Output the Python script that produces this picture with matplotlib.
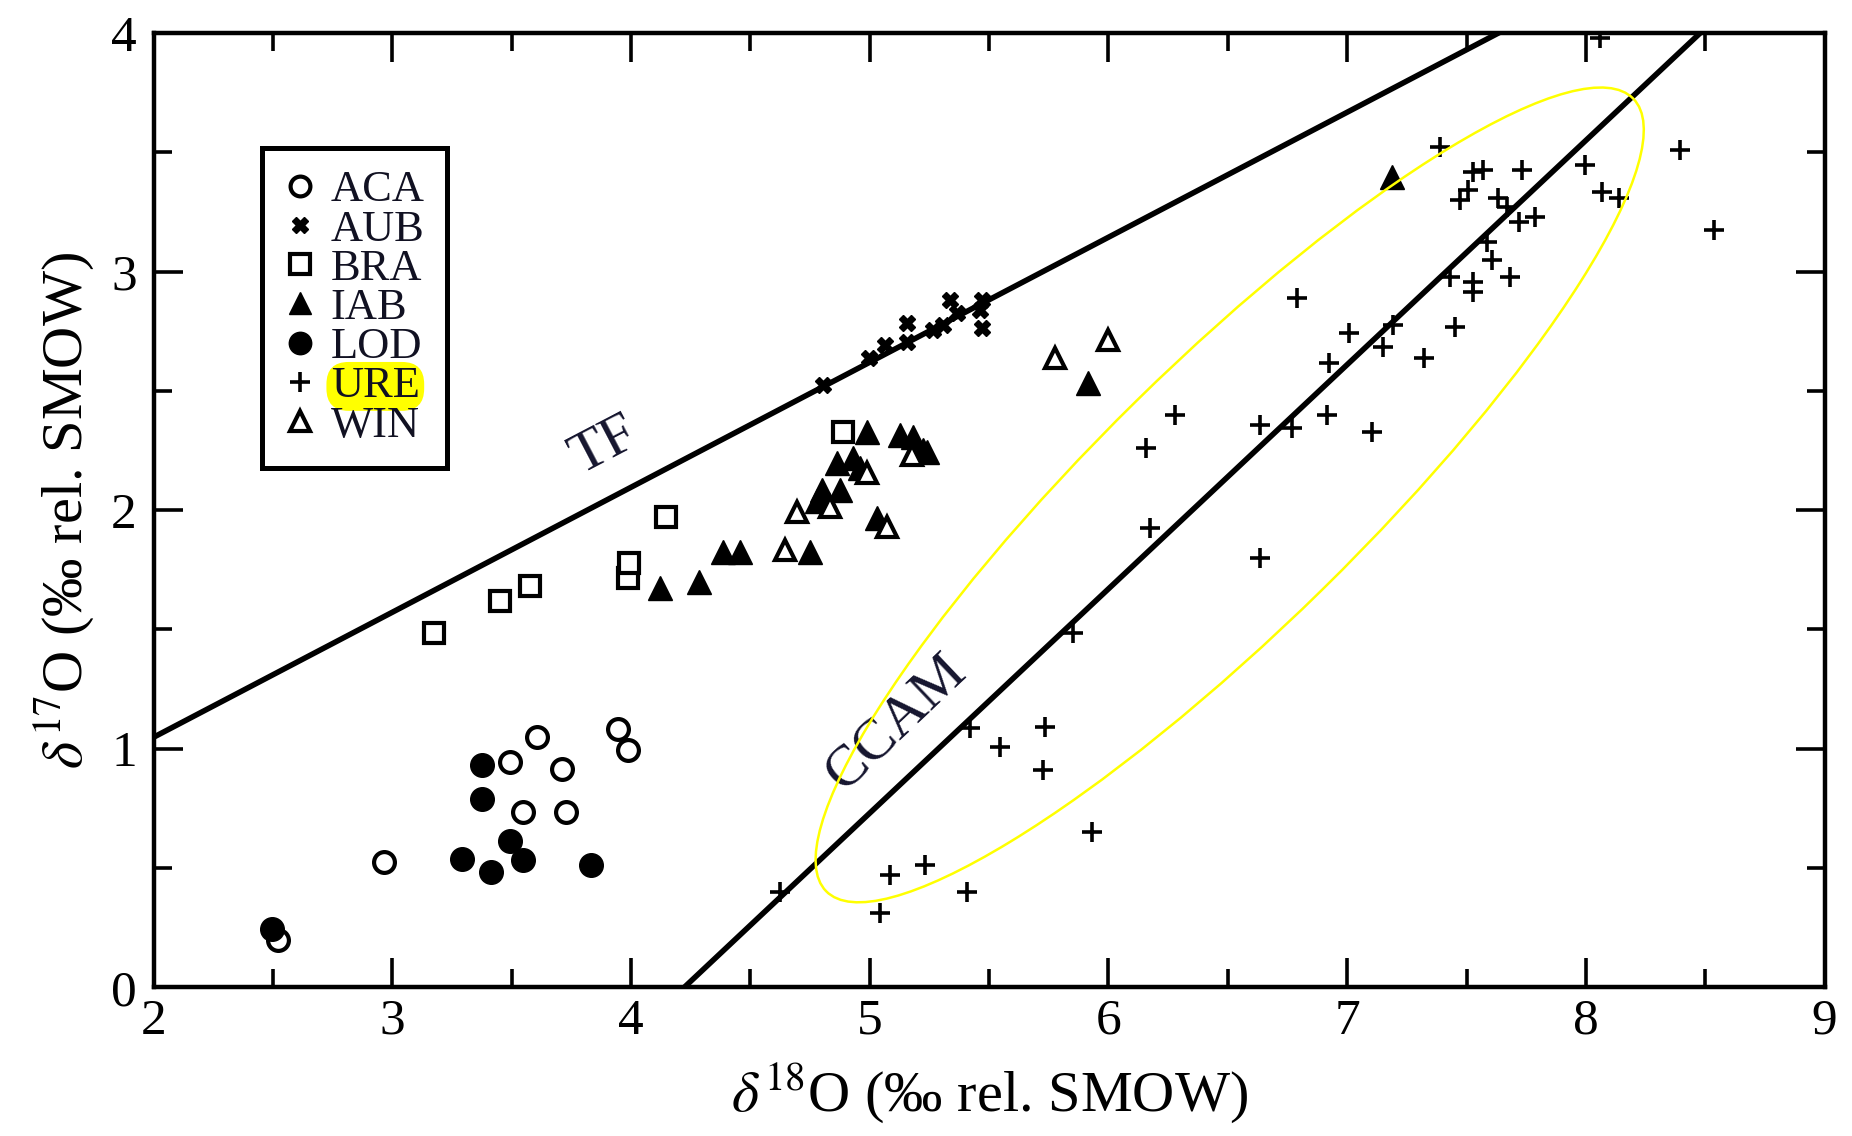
import matplotlib
matplotlib.use("Agg")
import matplotlib.pyplot as plt
from matplotlib.patches import Ellipse
from matplotlib.ticker import MultipleLocator
import numpy as np

plt.rcParams['font.family'] = ['Liberation Serif', 'DejaVu Serif']
plt.rcParams['mathtext.fontset'] = 'stix'

# ---------------- data ----------------
aca_x = [2.52, 2.966, 3.494, 3.547, 3.605, 3.710, 3.728, 3.945, 3.987]
aca_y = [0.197, 0.527, 0.946, 0.736, 1.050, 0.914, 0.736, 1.081, 0.995]

aub_x = [4.806, 4.995, 5.065, 5.155, 5.155, 5.267, 5.309, 5.337, 5.365, 5.470, 5.463, 5.470]
aub_y = [2.525, 2.637, 2.692, 2.783, 2.706, 2.755, 2.776, 2.881, 2.825, 2.881, 2.840, 2.762]

bra_x = [3.176, 3.452, 3.577, 3.989, 3.993, 4.147, 4.890]
bra_y = [1.484, 1.621, 1.682, 1.714, 1.777, 1.973, 2.329]

iab_x = [4.121, 4.287, 4.386, 4.456, 4.751, 4.780, 4.799, 4.813, 4.862, 4.876,
         4.932, 4.960, 4.988, 5.030, 5.127, 5.183, 5.225, 5.239, 5.916, 7.187]
iab_y = [1.672, 1.701, 1.826, 1.826, 1.826, 2.040, 2.085, 2.050, 2.197, 2.085,
         2.218, 2.176, 2.329, 1.966, 2.315, 2.308, 2.252, 2.245, 2.532, 3.398]

lod_x = [2.495, 3.291, 3.377, 3.375, 3.413, 3.494, 3.547, 3.832]
lod_y = [0.246, 0.537, 0.932, 0.788, 0.485, 0.615, 0.534, 0.513]

ure_x = [4.625, 5.043, 5.085, 5.232, 5.407, 5.421, 5.546, 5.735, 5.728, 5.930,
         5.853, 6.175, 6.158, 6.279, 6.636, 6.636, 6.768, 6.915, 7.103, 6.789,
         6.922, 7.006, 7.152, 7.194, 7.320, 7.452, 7.432, 7.529, 7.529, 7.683,
         7.606, 7.585, 7.669, 7.718, 7.788, 7.634, 7.473, 7.508, 7.529, 7.571,
         7.732, 7.389, 7.997, 8.067, 8.137, 8.395, 8.535, 8.060]
ure_y = [0.401, 0.310, 0.471, 0.513, 0.401, 1.086, 1.009, 1.092, 0.911, 0.652,
         1.484, 1.924, 2.259, 2.399, 1.798, 2.357, 2.343, 2.399, 2.329, 2.888,
         2.616, 2.741, 2.685, 2.776, 2.637, 2.769, 2.979, 2.958, 2.916, 2.979,
         3.049, 3.126, 3.272, 3.209, 3.230, 3.307, 3.300, 3.342, 3.419, 3.426,
         3.426, 3.521, 3.447, 3.335, 3.307, 3.510, 3.175, 3.980]

win_x = [4.646, 4.695, 4.834, 4.988, 5.072, 5.176, 5.777, 6.000]
win_y = [1.833, 1.994, 2.015, 2.155, 1.931, 2.231, 2.637, 2.713]

# reference lines: d17O = slope * d18O + intercept
tf_slope, tf_intercept = 0.524, 0.0
ccam_slope, ccam_intercept = 0.94, -3.97

# highlighted region (ellipse)
ell_center = (6.508, 2.064)
ell_major, ell_minor, ell_angle = 4.74, 1.11, 44.5

x_ticks = [2, 3, 4, 5, 6, 7, 8, 9]
y_ticks = [0, 1, 2, 3, 4]

# ---------------- figure ----------------
fig = plt.figure(figsize=(18.52, 11.36), dpi=100)
ax = fig.add_axes([0.0829, 0.1309, 0.9023, 0.8400])

xx = np.array([2.0, 9.0])
ax.plot(xx, tf_slope * xx + tf_intercept, color='black', lw=4, zorder=2)
ax.plot(xx, ccam_slope * xx + ccam_intercept, color='black', lw=4, zorder=2)

k = dict(linestyle='none', zorder=3)
ax.plot(aca_x, aca_y, marker='o', ms=15, mfc='white', mec='black', mew=3, label='ACA', **k)
ax.plot(aub_x, aub_y, marker='X', ms=12, mfc='black', mec='black', mew=1, label='AUB', **k)
ax.plot(bra_x, bra_y, marker='s', ms=15, mfc='white', mec='black', mew=3, label='BRA', **k)
ax.plot(iab_x, iab_y, marker='^', ms=17, mfc='black', mec='black', mew=1, label='IAB', **k)
ax.plot(lod_x, lod_y, marker='o', ms=17, mfc='black', mec='black', mew=1, label='LOD', **k)
ax.plot(ure_x, ure_y, marker='+', ms=15, mec='black', mew=2.6, label='URE', **k)
ax.plot(win_x, win_y, marker='^', ms=15, mfc='white', mec='black', mew=3, label='WIN', **k)

ax.add_patch(Ellipse(ell_center, ell_major, ell_minor, angle=ell_angle,
                     fill=False, ec='#ffff00', lw=1.8, zorder=5))

ax.text(3.89, 2.27, 'TF', fontsize=42, rotation=27.6, ha='center', va='center', color='#15152e')
ax.text(5.11, 1.11, 'CCAM', fontsize=42, rotation=43.5, ha='center', va='center', color='#15152e')

ax.set_xlim(2, 9)
ax.set_ylim(0, 4)
ax.set_xticks(x_ticks)
ax.set_yticks(y_ticks)
ax.xaxis.set_minor_locator(MultipleLocator(0.5))
ax.yaxis.set_minor_locator(MultipleLocator(0.5))
ax.tick_params(which='both', direction='in', top=True, right=True, width=2.6, colors='black')
ax.tick_params(which='major', length=21, labelsize=37)
ax.tick_params(which='minor', length=13)
ax.tick_params(axis='x', which='major', pad=8)
ax.tick_params(axis='y', which='major', pad=12)
for s in ax.spines.values():
    s.set_linewidth(3.2)

ax.set_xlabel(r'$\delta^{18}$O (‰ rel. SMOW)', fontsize=42, labelpad=12)
ax.set_ylabel(r'$\delta^{17}$O (‰ rel. SMOW)', fontsize=42, labelpad=10)

leg = ax.legend(loc='upper left', bbox_to_anchor=(0.0649, 0.8796), borderaxespad=0,
                fontsize=32, frameon=True, fancybox=False, edgecolor='black', framealpha=1,
                handlelength=0.7, handletextpad=0.35, labelspacing=-0.02,
                borderpad=0.5, numpoints=1, markerscale=0.95)
leg.get_frame().set_linewidth(3.6)
for t in leg.get_texts():
    t.set_color('#111122')
    if t.get_text() == 'URE':
        t.set_bbox(dict(boxstyle='round,pad=0.1,rounding_size=0.5', fc='#ffff00', ec='none'))

fig.savefig('out.png', dpi=100)
